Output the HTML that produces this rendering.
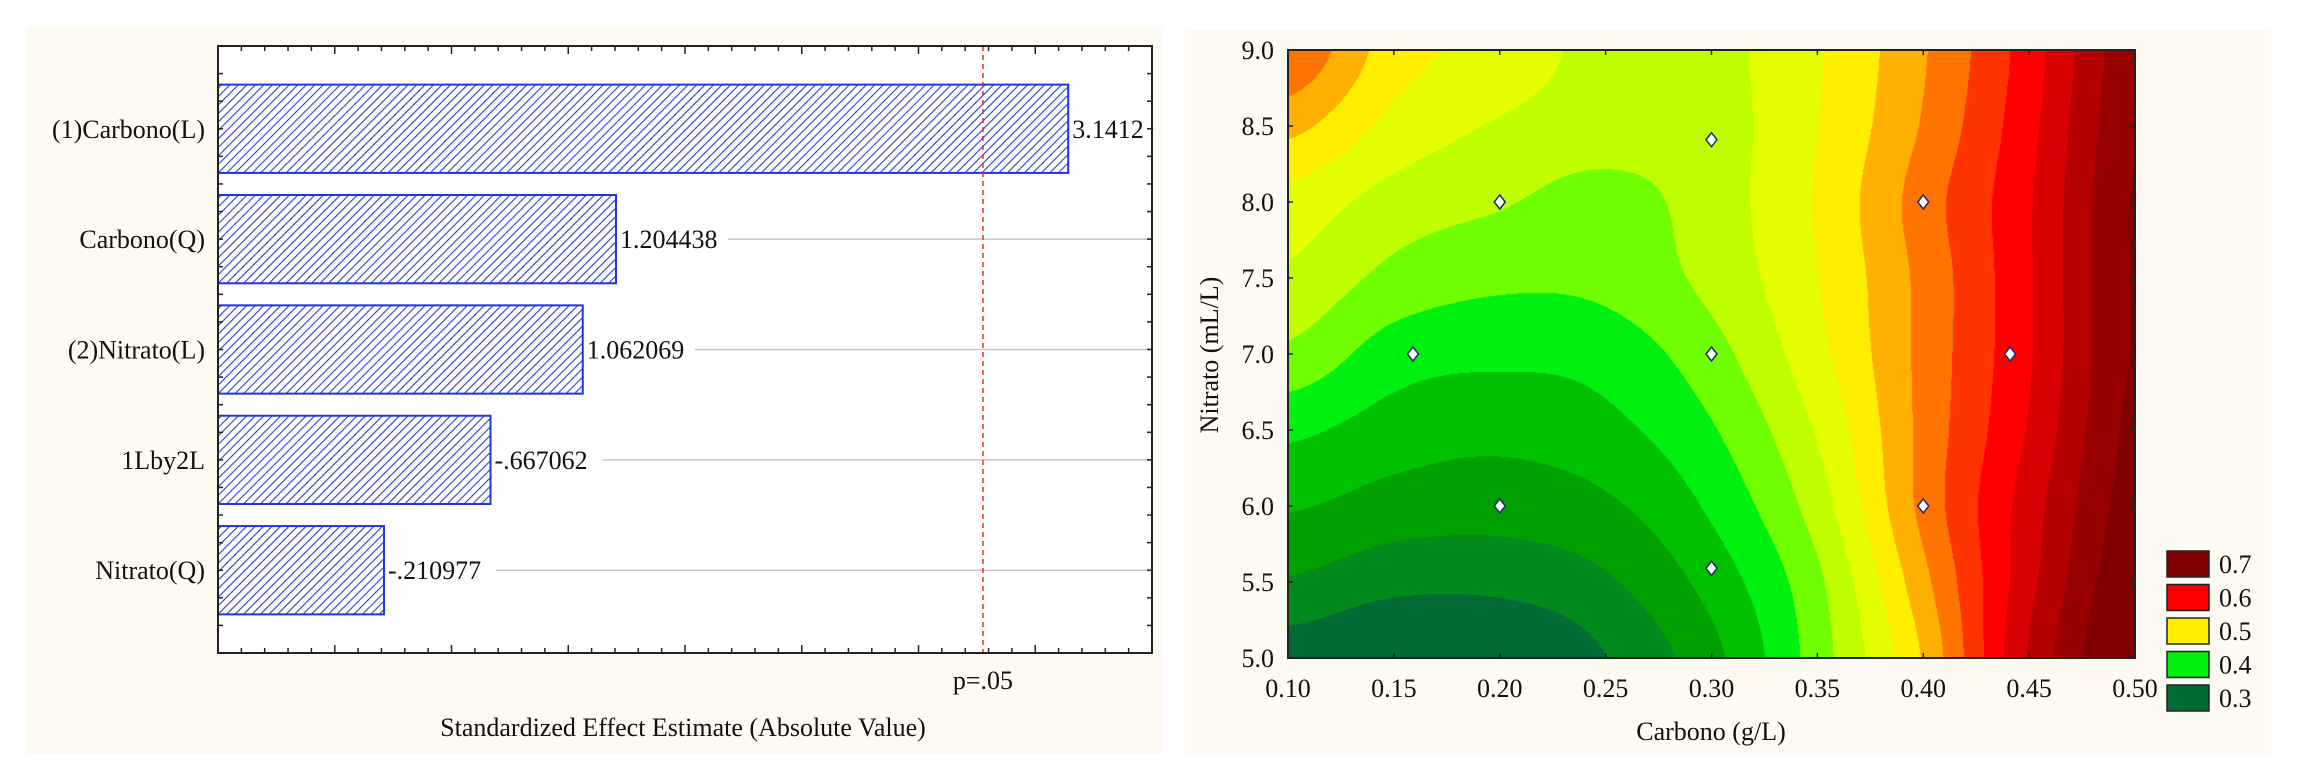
<!DOCTYPE html>
<html><head><meta charset="utf-8">
<style>
html,body{margin:0;padding:0;background:#fff;}
body{width:2308px;height:780px;position:relative;overflow:hidden;font-family:"Liberation Serif",serif;}
.panel{position:absolute;background:#fdfaf1;box-shadow:0 0 3px #eee;}
svg text{font-family:"Liberation Serif",serif;fill:#111;}
#contour{position:absolute;left:1288px;top:50px;}
</style></head>
<body>
<div class="panel" style="left:27px;top:27px;width:1134px;height:725px;"></div>
<div class="panel" style="left:1186px;top:32px;width:1084px;height:722px;"></div>
<canvas id="contour" width="847" height="608"></canvas>
<svg id="svg" width="2308" height="780" font-family="Liberation Serif, serif" style="position:absolute;left:0;top:0">
<defs>
<pattern id="hatch" patternUnits="userSpaceOnUse" width="6" height="6" patternTransform="rotate(45)">
<rect width="6" height="6" fill="#fff"/>
<line x1="0" y1="0" x2="0" y2="6" stroke="#2a3fd0" stroke-width="2.2"/>
</pattern>
</defs>
<g id="left"></g>
<g id="right"></g>
</svg>
<script>
// ---------- Pareto chart data ----------
const categories = ["(1)Carbono(L)","Carbono(Q)","(2)Nitrato(L)","1Lby2L","Nitrato(Q)"];
const effects = [3.1412, 1.204438, 1.062069, 0.667062, 0.210977];
const valueLabels = ["3.1412","1.204438","1.062069","-.667062","-.210977"];
const pCrit = [2.776];
const xDomain = [-0.5, 3.5];

// ---------- Contour data ----------
const gridX = [0.10,0.15,0.20,0.25,0.30,0.35,0.40,0.45,0.50];
const gridY = [5.0,5.5,6.0,6.5,7.0,7.5,8.0,8.5,9.0];
const gridZ = [ // rows by gridY, columns by gridX
 [0.300,0.285,0.285,0.312,0.355,0.425,0.515,0.640,0.720],
 [0.335,0.320,0.320,0.334,0.372,0.432,0.530,0.630,0.710],
 [0.365,0.352,0.348,0.358,0.392,0.450,0.545,0.625,0.700],
 [0.393,0.376,0.370,0.380,0.410,0.465,0.545,0.615,0.695],
 [0.432,0.400,0.393,0.398,0.428,0.480,0.545,0.610,0.690],
 [0.458,0.430,0.418,0.420,0.445,0.487,0.545,0.610,0.690],
 [0.478,0.452,0.440,0.428,0.450,0.490,0.550,0.610,0.690],
 [0.520,0.480,0.460,0.450,0.452,0.487,0.540,0.605,0.685],
 [0.560,0.500,0.478,0.455,0.455,0.485,0.535,0.600,0.680]
];
const levelValues = [0.300,0.325,0.350,0.375,0.400,0.425,0.450,0.475,0.500,0.525,0.550,0.575,0.600,0.625,0.650,0.675,0.700];
const levelColors = ["#006b35","#008a1c","#00a000","#00c000","#00f010","#70ff00","#c0ff00","#e4ff00","#ffee00","#ffb000","#ff7400","#ff3300","#ff0000","#d80000","#b40000","#980000","#800000"];
const pointsX = [0.2,0.2,0.4,0.4,0.159,0.441,0.3,0.3,0.3];
const pointsY = [6,8,6,8,7,7,5.59,8.41,7];
const legendValues = [0.7,0.6,0.5,0.4,0.3];
const xTicks = [0.10,0.15,0.20,0.25,0.30,0.35,0.40,0.45,0.50];
const yTicks = [5.0,5.5,6.0,6.5,7.0,7.5,8.0,8.5,9.0];

const NS="http://www.w3.org/2000/svg";
function mk(parent,tag,attrs,text){const e=document.createElementNS(NS,tag);for(const k in attrs)e.setAttribute(k,attrs[k]);if(tag==='text'){e.setAttribute('font-family','Liberation Serif, serif');}if(text!==undefined)e.textContent=text;parent.appendChild(e);return e;}

// ===== Left chart =====
const L=document.getElementById('left');
const PL={x0:218,x1:1152,y0:46,y1:653};
const xs=v=>PL.x0+(v-xDomain[0])/(xDomain[1]-xDomain[0])*(PL.x1-PL.x0);
const catH=(PL.y1-PL.y0)/5.5;
const cy=i=>PL.y0+catH*(i+0.75);
mk(L,'rect',{x:PL.x0,y:PL.y0,width:PL.x1-PL.x0,height:PL.y1-PL.y0,fill:'#fff'});
effects.forEach((v,i)=>{
  const yc=cy(i),bh=catH*0.8;
  const lx=xs(v)+4;
  const lw=valueLabels[i].length*13;
  const g=mk(L,'line',{x1:lx+lw+4,x2:PL.x1,y1:yc,y2:yc,stroke:'#c8c8c8','stroke-width':1.5});
  
  
  const b=mk(L,'rect',{x:PL.x0,y:yc-bh/2,width:xs(v)-PL.x0,height:bh,fill:'url(#hatch)',stroke:'#1f35e0','stroke-width':2});
  
  
  const t=mk(L,'text',{x:lx,y:yc+9,'font-size':26},valueLabels[i]);
  
  
  const c=mk(L,'text',{x:205,y:yc+9,'font-size':26,'text-anchor':'end'},categories[i]);
  
  
});
const px=xs(pCrit[0]);
const pl=mk(L,'line',{x1:px,x2:px,y1:PL.y0,y2:PL.y1,stroke:'#e03030','stroke-width':1.5,'stroke-dasharray':'5,4'});


const pt=mk(L,'text',{x:px,y:689,'font-size':26,'text-anchor':'middle'},'p=.05');


for(let k=0;k<=40;k++){
  const v=xDomain[0]+k*0.1;const x=xs(v);const len=(k%5===0)?8:5;
  mk(L,'line',{x1:x,x2:x,y1:PL.y0,y2:PL.y0+len,stroke:'#222','stroke-width':1.5});
  mk(L,'line',{x1:x,x2:x,y1:PL.y1,y2:PL.y1-len,stroke:'#222','stroke-width':1.5});
}
for(let k=1;k<22;k++){
  const y=PL.y0+k*catH/4;
  mk(L,'line',{x1:PL.x0,x2:PL.x0+5,y1:y,y2:y,stroke:'#222','stroke-width':1.5});
  mk(L,'line',{x1:PL.x1,x2:PL.x1-5,y1:y,y2:y,stroke:'#222','stroke-width':1.5});
}
const lb=mk(L,'rect',{x:PL.x0,y:PL.y0,width:PL.x1-PL.x0,height:PL.y1-PL.y0,fill:'none',stroke:'#222','stroke-width':2});


const lt=mk(L,'text',{x:683,y:736,'font-size':26,'text-anchor':'middle'},'Standardized Effect Estimate (Absolute Value)');



// ===== Right chart =====
const R=document.getElementById('right');
const PR={x0:1288,x1:2135,y0:50,y1:658};
const rx=x=>PR.x0+(x-0.1)/0.4*(PR.x1-PR.x0);
const ry=y=>PR.y1-(y-5)/4*(PR.y1-PR.y0);
function cr(p0,p1,p2,p3,t){return 0.5*((2*p1)+(-p0+p2)*t+(2*p0-5*p1+4*p2-p3)*t*t+(-p0+3*p1-3*p2+p3)*t*t*t);}
function gz(i,j){i=Math.max(0,Math.min(8,i));j=Math.max(0,Math.min(8,j));return gridZ[i][j];}
function interp(x,y){
  const fx=(x-gridX[0])/0.05, fy=(y-gridY[0])/0.5;
  let j=Math.min(7,Math.floor(fx)), i=Math.min(7,Math.floor(fy));
  const tx=fx-j, ty=fy-i;
  const rows=[];
  for(let a=-1;a<=2;a++){rows.push(cr(gz(i+a,j-1),gz(i+a,j),gz(i+a,j+1),gz(i+a,j+2),tx));}
  return cr(rows[0],rows[1],rows[2],rows[3],ty);
}
function hex(c){return [parseInt(c.slice(1,3),16),parseInt(c.slice(3,5),16),parseInt(c.slice(5,7),16)];}
const rgb=levelColors.map(hex);
const cv=document.getElementById('contour');const ctx=cv.getContext('2d');
const W=cv.width,H=cv.height;const img=ctx.createImageData(W,H);
const step=levelValues[1]-levelValues[0];
for(let py=0;py<H;py++){
  const y=9-(py+0.5)/H*4;
  for(let px2=0;px2<W;px2++){
    const x=0.1+(px2+0.5)/W*0.4;
    const z=interp(x,y);
    let k=Math.round((z-levelValues[0])/step);k=Math.max(0,Math.min(levelValues.length-1,k));
    const o=(py*W+px2)*4;const c=rgb[k];
    img.data[o]=c[0];img.data[o+1]=c[1];img.data[o+2]=c[2];img.data[o+3]=255;
  }
}
ctx.putImageData(img,0,0);
pointsX.forEach((x,i)=>{
  const X=rx(x),Y=ry(pointsY[i]);
  const d=mk(R,'path',{d:`M${X},${Y-7} L${X+5.5},${Y} L${X},${Y+7} L${X-5.5},${Y} Z`,fill:'#fff',stroke:'#1a2a70','stroke-width':1.5});
  
  
});
xTicks.forEach(v=>{
  const x=rx(v);
  mk(R,'line',{x1:x,x2:x,y1:PR.y0,y2:PR.y0+5,stroke:'#222','stroke-width':1.5});
  mk(R,'line',{x1:x,x2:x,y1:PR.y1,y2:PR.y1-5,stroke:'#222','stroke-width':1.5});
  const t=mk(R,'text',{x:x,y:697,'font-size':26,'text-anchor':'middle'},v.toFixed(2));
  
  
});
yTicks.forEach(v=>{
  const y=ry(v);
  mk(R,'line',{x1:PR.x0,x2:PR.x0+5,y1:y,y2:y,stroke:'#222','stroke-width':1.5});
  mk(R,'line',{x1:PR.x1,x2:PR.x1-5,y1:y,y2:y,stroke:'#222','stroke-width':1.5});
  const t=mk(R,'text',{x:1274,y:y+9,'font-size':26,'text-anchor':'end'},v.toFixed(1));
  
  
});
const rb=mk(R,'rect',{x:PR.x0,y:PR.y0,width:PR.x1-PR.x0,height:PR.y1-PR.y0,fill:'none',stroke:'#222','stroke-width':2});


const xt=mk(R,'text',{x:1711,y:740,'font-size':26,'text-anchor':'middle'},'Carbono (g/L)');


const yt=mk(R,'text',{x:0,y:0,'font-size':26,'text-anchor':'middle',transform:'translate(1218,355) rotate(-90)'},'Nitrato (mL/L)');


legendValues.forEach((v,i)=>{
  const y=551+i*33.5;
  let k=Math.round((v-levelValues[0])/step);
  const r=mk(R,'rect',{x:2167,y:y,width:42,height:26,fill:levelColors[k],stroke:'#222','stroke-width':1.5});
  
  
  const t=mk(R,'text',{x:2219,y:y+22,'font-size':26},v.toFixed(1));
  
  
});
</script>
</body></html>
